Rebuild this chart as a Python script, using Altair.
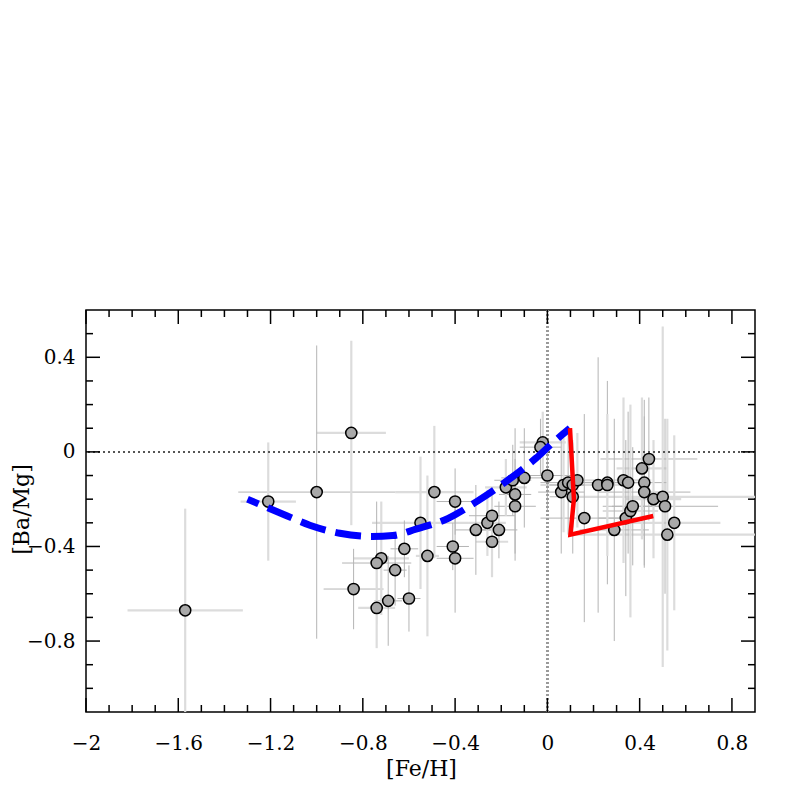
import altair as alt
import pandas as pd

# ---- data ----
fe = [-1.57, -1.21, -1.00, -0.85, -0.49, -0.40, -0.55, -0.62, -0.52, -0.41,
      -0.40, -0.72, -0.74, -0.66, -0.84, -0.69, -0.74, -0.60, -0.31, -0.26,
      -0.24, -0.21, -0.24, -0.18, -0.15, -0.10, -0.14, -0.14, -0.02, -0.03,
      0.00, 0.06, 0.07, 0.09, 0.11, 0.13, 0.11, 0.16, 0.22, 0.26,
      0.26, 0.33, 0.35, 0.29, 0.34, 0.36, 0.37, 0.44, 0.41, 0.42,
      0.42, 0.46, 0.50, 0.51, 0.55, 0.52]
ba = [-0.67, -0.21, -0.17, 0.08, -0.17, -0.21, -0.30, -0.41, -0.44, -0.40,
      -0.45, -0.45, -0.47, -0.50, -0.58, -0.63, -0.66, -0.62, -0.33, -0.30,
      -0.27, -0.33, -0.38, -0.15, -0.12, -0.11, -0.18, -0.23, 0.04, 0.02,
      -0.10, -0.17, -0.14, -0.13, -0.14, -0.12, -0.19, -0.28, -0.14, -0.13,
      -0.14, -0.12, -0.13, -0.33, -0.28, -0.25, -0.23, -0.03, -0.07, -0.13,
      -0.17, -0.20, -0.19, -0.23, -0.30, -0.35]
fe_err = [0.25, 0.12, 0.34, 0.15, 0.17, 0.08, 0.21, 0.06, 0.05, 0.07,
          0.08, 0.12, 0.15, 0.05, 0.13, 0.06, 0.08, 0.05, 0.09, 0.08,
          0.10, 0.08, 0.07, 0.09, 0.08, 0.10, 0.07, 0.09, 0.10, 0.09,
          0.12, 0.10, 0.10, 0.12, 0.10, 0.08, 0.10, 0.19, 0.12, 0.15,
          0.10, 0.12, 0.10, 0.15, 0.12, 0.12, 0.13, 0.21, 0.11, 0.10,
          0.20, 0.12, 0.45, 0.23, 0.20, 0.40]
ba_err = [0.43, 0.25, 0.62, 0.39, 0.28, 0.14, 0.28, 0.12, 0.34, 0.10,
          0.23, 0.24, 0.26, 0.15, 0.17, 0.19, 0.17, 0.14, 0.19, 0.14,
          0.12, 0.12, 0.15, 0.12, 0.15, 0.21, 0.28, 0.20, 0.13, 0.12,
          0.15, 0.26, 0.20, 0.22, 0.18, 0.20, 0.24, 0.44, 0.54, 0.43,
          0.30, 0.35, 0.30, 0.47, 0.33, 0.45, 0.25, 0.26, 0.30, 0.35,
          0.32, 0.25, 0.72, 0.37, 0.37, 0.49]
shade = ["L", "L", "D", "L", "L", "D", "L", "D", "L", "D",
         "D", "L", "D", "D", "D", "D", "L", "D", "D", "L",
         "D", "D", "L", "L", "D", "D", "D", "D", "L", "D",
         "D", "D", "L", "D", "D", "L", "D", "D", "D", "D",
         "L", "L", "D", "D", "D", "L", "D", "D", "L", "D",
         "D", "L", "L", "D", "L", "L"]

# blue dashed model curve
blue_fe = [-1.30, -1.13, -1.03, -0.90, -0.76, -0.67, -0.57, -0.43, -0.30, -0.18, -0.05, 0.03, 0.098]
blue_ba = [-0.20, -0.27, -0.31, -0.344, -0.358, -0.354, -0.327, -0.281, -0.206, -0.126, -0.027, 0.044, 0.10]
# red model track
red_fe = [0.098, 0.115, 0.100, 0.459]
red_ba = [0.10, -0.20, -0.35, -0.271]

# tick values
x_major = [-2.0, -1.6, -1.2, -0.8, -0.4, 0.0, 0.4, 0.8]
x_minor = [-1.9, -1.8, -1.7, -1.5, -1.4, -1.3, -1.1, -1.0, -0.9, -0.7, -0.6, -0.5,
           -0.3, -0.2, -0.1, 0.1, 0.2, 0.3, 0.5, 0.6, 0.7]
y_major = [0.4, 0.0, -0.4, -0.8]
y_minor = [0.5, 0.3, 0.2, 0.1, -0.1, -0.2, -0.3, -0.5, -0.6, -0.7, -0.9, -1.0]

W, H = 669, 402
FONT = "DejaVu Serif"

df = pd.DataFrame({"fe": fe, "ba": ba, "shade": shade})
df["fe_lo"] = [a - e for a, e in zip(fe, fe_err)]
df["fe_hi"] = [a + e for a, e in zip(fe, fe_err)]
df["ba_lo"] = [a - e for a, e in zip(ba, ba_err)]
df["ba_hi"] = [a + e for a, e in zip(ba, ba_err)]

blue_df = pd.DataFrame({"fe": blue_fe, "ba": blue_ba, "i": list(range(len(blue_fe)))})
red_df = pd.DataFrame({"fe": red_fe, "ba": red_ba, "i": list(range(len(red_fe)))})

xs = alt.Scale(domain=[-2.0, 0.9], nice=False, zero=False)
ys = alt.Scale(domain=[-1.1, 0.6], nice=False, zero=False)
lab = "datum.value == 0 ? '0' : format(datum.value, '.1~f')"

xax = alt.Axis(values=x_major, title="[Fe/H]", grid=False, domain=False, ticks=False,
               tickSize=0, labelPadding=31, labelBaseline="middle", labelFlush=False,
               labelOverlap=False, labelExpr=lab, labelFont=FONT, labelFontSize=20,
               labelColor="black", titleFont=FONT, titleFontSize=22,
               titleFontWeight="normal", titleColor="black", titleX=335, titleY=56,
               titleBaseline="middle", titleAlign="center")
yax = alt.Axis(values=y_major, title="[Ba/Mg]", grid=False, domain=False, ticks=False,
               tickSize=0, labelPadding=11, labelFlush=False, labelOverlap=False,
               labelExpr=lab, labelFont=FONT, labelFontSize=20, labelColor="black",
               titleFont=FONT, titleFontSize=22, titleFontWeight="normal",
               titleColor="black", titleX=-65, titleY=199, titleAngle=270,
               titleBaseline="middle", titleAlign="center")

shade_col = alt.Color("shade:N", scale=alt.Scale(domain=["D", "L"], range=["#b4b4b4", "#dcdcdc"]), legend=None)
shade_w = alt.StrokeWidth("shade:N", scale=alt.Scale(domain=["D", "L"], range=[1.0, 2.2]), legend=None)

base = alt.Chart(df)
herr = base.mark_rule(clip=True).encode(
    x=alt.X("fe_lo:Q", scale=xs, axis=xax), x2="fe_hi:Q",
    y=alt.Y("ba:Q", scale=ys, axis=yax), color=shade_col, strokeWidth=shade_w)
verr = base.mark_rule(clip=True).encode(
    x=alt.X("fe:Q", scale=xs, axis=xax),
    y=alt.Y("ba_lo:Q", scale=ys, axis=yax), y2="ba_hi:Q", color=shade_col, strokeWidth=shade_w)

hzero = alt.Chart(df).mark_rule(color="#555555", strokeWidth=1, strokeDash=[2, 3]).encode(
    y=alt.YDatum(0, scale=ys, axis=yax))
vzero = alt.Chart(df).mark_rule(color="#9a9a9a", strokeWidth=1.5, strokeDash=[2, 2]).encode(
    x=alt.XDatum(0, scale=xs, axis=xax))

pts = base.mark_point(shape="circle", filled=True, fill="#a9a9a9", stroke="black",
                      strokeWidth=1.5, size=125, opacity=1, clip=True).encode(
    x=alt.X("fe:Q", scale=xs, axis=xax), y=alt.Y("ba:Q", scale=ys, axis=yax))

blue = alt.Chart(blue_df).mark_line(color="#0000ff", strokeWidth=7, strokeDash=[26, 10],
                                    strokeDashOffset=14,
                                    interpolate="monotone", clip=True).encode(
    x=alt.X("fe:Q", scale=xs, axis=xax), y=alt.Y("ba:Q", scale=ys, axis=yax), order="i:Q")
red = alt.Chart(red_df).mark_line(color="#ff0000", strokeWidth=4.5, clip=True).encode(
    x=alt.X("fe:Q", scale=xs, axis=xax), y=alt.Y("ba:Q", scale=ys, axis=yax), order="i:Q")


def xticks(vals, length, top):
    d = pd.DataFrame({"v": vals})
    if top:
        yy, yy2 = 0, length
    else:
        yy, yy2 = H, H - length
    return alt.Chart(d).mark_rule(color="black", strokeWidth=1.5).encode(
        x=alt.X("v:Q", scale=xs, axis=xax), y=alt.value(yy), y2=alt.value(yy2))


def yticks(vals, length, left):
    d = pd.DataFrame({"v": vals})
    if left:
        xx, xx2 = 0, length
    else:
        xx, xx2 = W, W - length
    return alt.Chart(d).mark_rule(color="black", strokeWidth=1.5).encode(
        y=alt.Y("v:Q", scale=ys, axis=yax), x=alt.value(xx), x2=alt.value(xx2))


tick_layers = [
    xticks(x_major, 14, False), xticks(x_minor, 7, False),
    xticks(x_major, 14, True), xticks(x_minor, 7, True),
    yticks(y_major, 14, True), yticks(y_minor, 7, True),
    yticks(y_major, 14, False), yticks(y_minor, 7, False),
]

chart = alt.layer(herr, verr, hzero, vzero, pts, blue, red, *tick_layers).properties(
    width=W, height=H,
    autosize=alt.AutoSizeParams(type="none"),
    padding={"left": 78, "top": 302, "right": 34, "bottom": 77},
    background="white",
).configure_view(stroke="black", strokeWidth=1.5)

chart.save("out.html", embed_options={"renderer": "svg", "actions": False})
